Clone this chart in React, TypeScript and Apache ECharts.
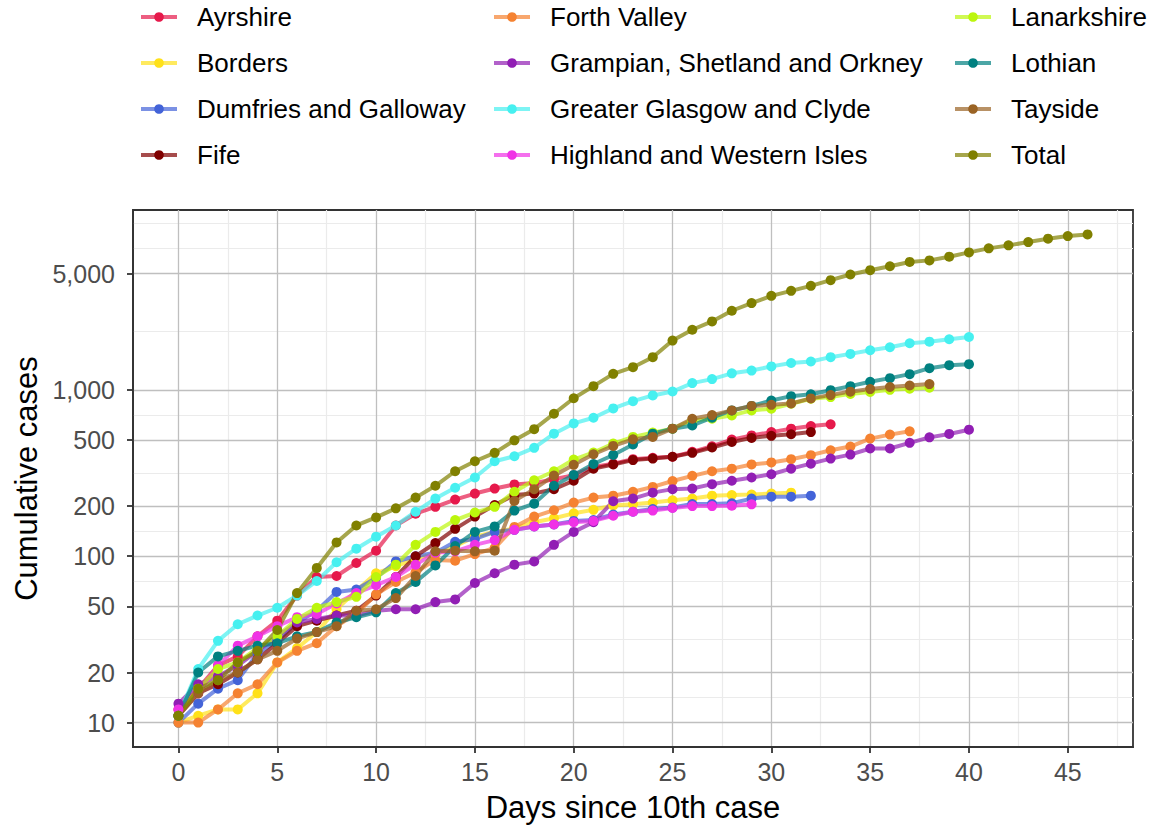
import React, { useEffect, useRef } from "react";
import * as echarts from "echarts";

const regions = [
  "Ayrshire",
  "Borders",
  "Dumfries and Galloway",
  "Fife",
  "Forth Valley",
  "Grampian, Shetland and Orkney",
  "Greater Glasgow and Clyde",
  "Highland and Western Isles",
  "Lanarkshire",
  "Lothian",
  "Tayside",
  "Total",
];

const colors = [
  "#e6194b",
  "#ffe119",
  "#4363d8",
  "#800000",
  "#f58231",
  "#911eb4",
  "#46f0f0",
  "#f032e6",
  "#bcf60c",
  "#008080",
  "#9a6324",
  "#808000",
];

const ayrshire = [12, 16, 22, 25, 33, 41, 58, 75, 76, 91, 108, 153, 180, 198, 219, 238, 255, 270, 275, 290, 307, 344, 360, 383, 390, 396, 424, 458, 502, 532, 557, 584, 606, 620];
const borders = [10, 11, 12, 12, 15, 23, 28, 35, 48, 62, 79, 87, 97, 103, 115, 131, 140, 147, 160, 169, 181, 190, 202, 205, 210, 217, 222, 231, 233, 235, 238, 241];
const dumfries = [10, 13, 16, 18, 26, 31, 40, 47, 61, 63, 74, 93, 100, 105, 122, 127, 140, 144, 151, 155, 163, 165, 178, 185, 192, 196, 206, 206, 208, 222, 228, 228, 231];
const fife = [11, 15, 17, 20, 24, 30, 38, 41, 44, 47, 58, 75, 100, 120, 146, 173, 203, 233, 238, 253, 284, 336, 356, 378, 386, 396, 418, 450, 486, 514, 529, 541, 557];
const forthValley = [10, 10, 12, 15, 17, 23, 27, 30, 38, 45, 59, 70, 80, 95, 94, 103, 112, 150, 173, 189, 210, 225, 231, 244, 261, 283, 304, 324, 336, 356, 366, 383, 405, 433, 456, 509, 538, 563];
const grampian = [13, 17, 19, 22, 27, 33, 40, 42, 44, 44, 47, 48, 48, 53, 55, 69, 79, 89, 93, 117, 140, 160, 214, 222, 241, 253, 255, 271, 284, 297, 311, 336, 360, 386, 408, 444, 444, 480, 518, 543, 576];
const glasgow = [11, 21, 31, 39, 44, 49, 58, 71, 92, 111, 131, 153, 185, 222, 258, 297, 372, 399, 448, 545, 628, 679, 773, 855, 925, 977, 1097, 1160, 1256, 1305, 1383, 1449, 1479, 1571, 1644, 1729, 1803, 1905, 1946, 2012, 2077];
const highland = [12, 15, 22, 29, 33, 38, 43, 45, 52, 60, 67, 75, 89, 105, 107, 117, 125, 144, 151, 155, 160, 163, 175, 185, 188, 195, 200, 200, 201, 205];
const lanarkshire = [11, 16, 21, 23, 28, 33, 42, 49, 53, 57, 75, 89, 117, 140, 165, 183, 198, 244, 286, 324, 381, 420, 475, 521, 553, 584, 655, 670, 702, 752, 770, 825, 884, 904, 945, 970, 1000, 1015, 1030];
const lothian = [11, 20, 25, 27, 29, 30, 33, 35, 40, 43, 46, 60, 70, 88, 115, 140, 151, 188, 207, 265, 308, 358, 406, 469, 545, 584, 611, 680, 752, 800, 863, 916, 940, 995, 1052, 1117, 1175, 1242, 1349, 1406, 1426];
const tayside = [11, 15, 18, 20, 24, 27, 32, 35, 38, 47, 48, 56, 76, 107, 108, 107, 108, 215, 253, 305, 354, 410, 460, 504, 521, 584, 670, 705, 752, 800, 812, 828, 888, 930, 975, 1010, 1040, 1062, 1082];
const total = [11, 16, 18, 23, 27, 36, 60, 85, 121, 153, 171, 194, 225, 265, 324, 372, 418, 497, 580, 718, 890, 1052, 1247, 1368, 1571, 1977, 2295, 2577, 2986, 3319, 3672, 3935, 4217, 4561, 4932, 5234, 5531, 5867, 5996, 6310, 6698, 7080, 7380, 7725, 8095, 8395, 8590];

const seriesValues = [ayrshire, borders, dumfries, fife, forthValley, grampian, glasgow, highland, lanarkshire, lothian, tayside, total];

const xTicks = [0, 5, 10, 15, 20, 25, 30, 35, 40, 45];
const xMinorTicks = [2.5, 7.5, 12.5, 17.5, 22.5, 27.5, 32.5, 37.5, 42.5, 47.5];
const yTicks = [10, 20, 50, 100, 200, 500, 1000, 5000];
const yMinorTicks = [14.14, 31.62, 70.71, 141.4, 316.2, 707.1, 2236, 7071, 10000];

const FONT = "'Liberation Sans', Arial, Helvetica, sans-serif";
const X_MIN = -2.3;
const X_MAX = 48.3;
const Y_MIN = 7.135;
const Y_MAX = 12040;

export default function App() {
  const ref = useRef<HTMLDivElement>(null);

  useEffect(() => {
    document.body.style.margin = "0";
    if (!ref.current) return;
    const chart = echarts.init(ref.current, undefined, { renderer: "svg" });

    const toPairs = (vals: number[]) => vals.map((v, i) => [i, v]);

    const lineSeries = regions.map((name, k) => ({
      type: "line",
      name,
      data: toPairs(seriesValues[k]),
      xAxisIndex: 1,
      yAxisIndex: 1,
      showSymbol: false,
      symbol: "circle",
      symbolSize: 10,
      color: colors[k],
      itemStyle: { color: colors[k] },
      lineStyle: { width: 4, color: colors[k], opacity: 0.7 },
      silent: true,
      z: 2,
    }));

    const pointSeries = regions.map((name, k) => ({
      type: "scatter",
      name,
      data: toPairs(seriesValues[k]),
      xAxisIndex: 1,
      yAxisIndex: 1,
      symbol: "circle",
      symbolSize: 10,
      color: colors[k],
      itemStyle: { color: colors[k], opacity: 1 },
      silent: true,
      z: 3,
    }));

    const legendLefts = [139, 492, 953];
    const legends = [0, 1, 2].map((c) => ({
      data: regions.slice(c * 4, c * 4 + 4),
      orient: "vertical",
      left: legendLefts[c],
      top: 4,
      padding: 0,
      itemWidth: 36,
      itemHeight: 12,
      itemGap: 20,
      selectedMode: false,
      lineStyle: { width: 4, opacity: 0.7 },
      itemStyle: { opacity: 1 },
      textStyle: {
        fontSize: 26,
        lineHeight: 26,
        color: "#000000",
        fontFamily: FONT,
        padding: [0, 0, 0, 15],
      },
    }));

    const tickLabel = { fontSize: 25, color: "#4D4D4D", fontFamily: FONT };

    chart.setOption({
      animation: false,
      backgroundColor: "#ffffff",
      textStyle: { fontFamily: FONT },
      legend: legends,
      grid: {
        left: 133,
        right: 23,
        top: 210,
        bottom: 84,
        show: true,
        borderColor: "#333333",
        borderWidth: 1.8,
        backgroundColor: "#ffffff",
      },
      xAxis: [
        {
          type: "value",
          min: X_MIN,
          max: X_MAX,
          position: "bottom",
          z: 0,
          axisLine: { show: false },
          axisLabel: { show: false },
          axisTick: { show: false, customValues: xMinorTicks },
          splitLine: { show: true, lineStyle: { color: "#EBEBEB", width: 1.2 } },
        },
        {
          type: "value",
          min: X_MIN,
          max: X_MAX,
          position: "bottom",
          z: 1,
          name: "Days since 10th case",
          nameLocation: "middle",
          nameGap: 45,
          nameTextStyle: { fontSize: 31, color: "#000000", fontFamily: FONT },
          axisLine: { show: true, onZero: false, lineStyle: { color: "#333333", width: 1.8 } },
          axisTick: { show: true, length: 6, customValues: xTicks, lineStyle: { color: "#333333", width: 1.8 } },
          axisLabel: { ...tickLabel, margin: 12, customValues: xTicks },
          splitLine: { show: true, lineStyle: { color: "#BFBFBF", width: 1.3 } },
        },
      ],
      yAxis: [
        {
          type: "log",
          logBase: 10,
          min: Y_MIN,
          max: Y_MAX,
          position: "left",
          z: 0,
          axisLine: { show: false },
          axisLabel: { show: false },
          axisTick: { show: false, customValues: yMinorTicks },
          splitLine: { show: true, lineStyle: { color: "#EBEBEB", width: 1.2 } },
        },
        {
          type: "log",
          logBase: 10,
          min: Y_MIN,
          max: Y_MAX,
          position: "left",
          z: 1,
          name: "Cumulative cases",
          nameLocation: "middle",
          nameGap: 86,
          nameTextStyle: { fontSize: 31, color: "#000000", fontFamily: FONT },
          axisLine: { show: true, onZero: false, lineStyle: { color: "#333333", width: 1.8 } },
          axisTick: { show: true, length: 6, customValues: yTicks, lineStyle: { color: "#333333", width: 1.8 } },
          axisLabel: {
            ...tickLabel,
            margin: 18,
            customValues: yTicks,
            formatter: (v: number) => Math.round(v).toLocaleString("en-US"),
          },
          splitLine: { show: true, lineStyle: { color: "#BFBFBF", width: 1.3 } },
        },
      ],
      series: [...lineSeries, ...pointSeries],
    });

    return () => {
      chart.dispose();
    };
  }, []);

  return <div ref={ref} style={{ width: 1156, height: 831 }} />;
}
